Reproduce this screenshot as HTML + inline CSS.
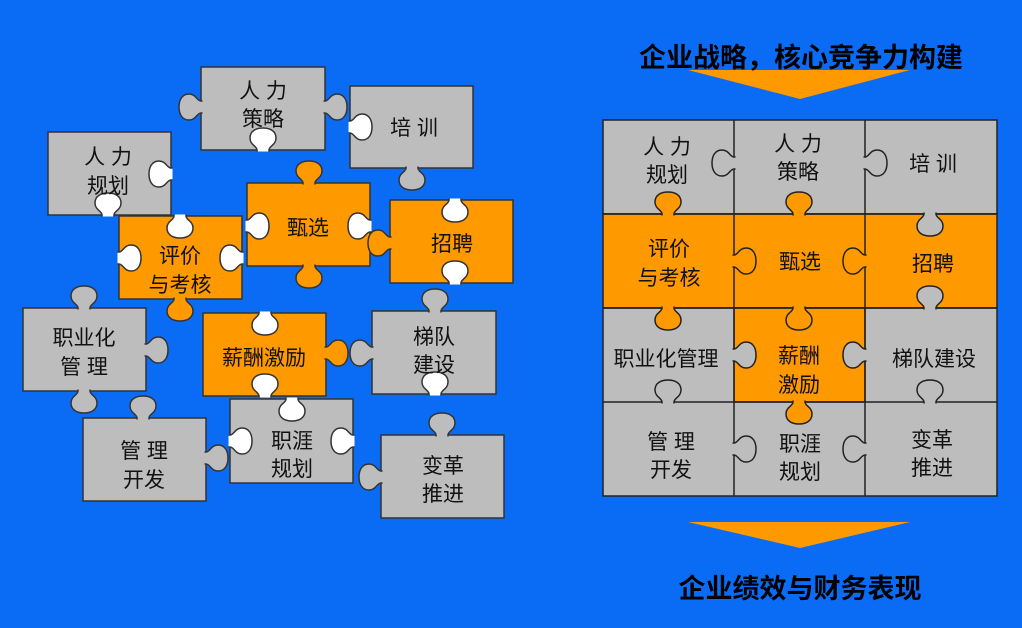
<!DOCTYPE html>
<html><head><meta charset="utf-8"><style>
html,body{margin:0;padding:0;background:#0a6cf5;}
svg{display:block}
text{font-family:"Liberation Sans","Noto Sans CJK SC",sans-serif;fill:#111;}
</style></head><body>
<svg width="1022" height="628" viewBox="0 0 1022 628" xmlns="http://www.w3.org/2000/svg">
<defs>
<path id="k" d="M -6 1.5 L -6 0 C -6 -4 -13 -5 -13 -12 C -13 -19 -7 -22 0 -22 C 7 -22 13 -19 13 -12 C 13 -5 6 -4 6 0 L 6 1.5"/>
</defs>
<rect width="1022" height="628" fill="#0a6cf5"/>
<g stroke="#333" stroke-width="1.5">
<rect x="201" y="67" width="124" height="83" fill="#bdbdbd"/>
<use href="#k" transform="translate(201,107) rotate(-90)" fill="#bdbdbd"/>
<use href="#k" transform="translate(325,107) rotate(90)" fill="#bdbdbd"/>
<use href="#k" transform="translate(263,150) rotate(0)" fill="#fff"/>
<rect x="350" y="86" width="123" height="82" fill="#bdbdbd"/>
<use href="#k" transform="translate(350,127) rotate(90)" fill="#fff"/>
<use href="#k" transform="translate(412,168) rotate(180)" fill="#bdbdbd"/>
<rect x="48" y="132" width="123" height="83" fill="#bdbdbd"/>
<use href="#k" transform="translate(171,174) rotate(-90)" fill="#fff"/>
<use href="#k" transform="translate(108,215) rotate(0)" fill="#fff"/>
<rect x="247" y="183" width="123" height="83" fill="#ff9900"/>
<use href="#k" transform="translate(309,183) rotate(0)" fill="#ff9900"/>
<use href="#k" transform="translate(247,226) rotate(90)" fill="#fff"/>
<use href="#k" transform="translate(370,226) rotate(-90)" fill="#fff"/>
<use href="#k" transform="translate(309,266) rotate(180)" fill="#ff9900"/>
<rect x="390" y="200" width="123" height="83" fill="#ff9900"/>
<use href="#k" transform="translate(455,200) rotate(180)" fill="#fff"/>
<use href="#k" transform="translate(390,243) rotate(-90)" fill="#ff9900"/>
<use href="#k" transform="translate(455,283) rotate(0)" fill="#fff"/>
<rect x="119" y="216" width="123" height="83" fill="#ff9900"/>
<use href="#k" transform="translate(180,216) rotate(180)" fill="#fff"/>
<use href="#k" transform="translate(119,258) rotate(90)" fill="#fff"/>
<use href="#k" transform="translate(242,258) rotate(-90)" fill="#fff"/>
<use href="#k" transform="translate(180,299) rotate(180)" fill="#ff9900"/>
<rect x="23" y="308" width="123" height="83" fill="#bdbdbd"/>
<use href="#k" transform="translate(84,308) rotate(0)" fill="#bdbdbd"/>
<use href="#k" transform="translate(146,350) rotate(90)" fill="#bdbdbd"/>
<use href="#k" transform="translate(84,391) rotate(180)" fill="#bdbdbd"/>
<rect x="203" y="313" width="123" height="83" fill="#ff9900"/>
<use href="#k" transform="translate(265,313) rotate(180)" fill="#fff"/>
<use href="#k" transform="translate(326,353) rotate(90)" fill="#ff9900"/>
<use href="#k" transform="translate(265,396) rotate(0)" fill="#fff"/>
<rect x="372" y="311" width="124" height="83" fill="#bdbdbd"/>
<use href="#k" transform="translate(435,311) rotate(0)" fill="#bdbdbd"/>
<use href="#k" transform="translate(372,353) rotate(-90)" fill="#bdbdbd"/>
<use href="#k" transform="translate(435,394) rotate(0)" fill="#fff"/>
<rect x="83" y="418" width="123" height="83" fill="#bdbdbd"/>
<use href="#k" transform="translate(143,418) rotate(0)" fill="#bdbdbd"/>
<use href="#k" transform="translate(206,458) rotate(90)" fill="#bdbdbd"/>
<rect x="230" y="399" width="123" height="84" fill="#bdbdbd"/>
<use href="#k" transform="translate(292,399) rotate(180)" fill="#fff"/>
<use href="#k" transform="translate(230,441) rotate(90)" fill="#fff"/>
<use href="#k" transform="translate(353,441) rotate(-90)" fill="#fff"/>
<rect x="381" y="435" width="123" height="83" fill="#bdbdbd"/>
<use href="#k" transform="translate(442,435) rotate(0)" fill="#bdbdbd"/>
<use href="#k" transform="translate(381,477) rotate(-90)" fill="#bdbdbd"/>
</g>
<g font-size="21" text-anchor="middle">
<text x="263" y="98">人 力</text><text x="263" y="126">策略</text>
<text x="414" y="135">培 训</text>
<text x="108" y="164">人 力</text><text x="108" y="193">规划</text>
<text x="308" y="235">甄选</text>
<text x="452" y="251">招聘</text>
<text x="180" y="263">评价</text><text x="180" y="292">与考核</text>
<text x="84" y="345">职业化</text><text x="84" y="374">管 理</text>
<text x="264" y="365">薪酬激励</text>
<text x="434" y="344">梯队</text><text x="434" y="372">建设</text>
<text x="144" y="458">管 理</text><text x="144" y="487">开发</text>
<text x="292" y="448">职涯</text><text x="292" y="476">规划</text>
<text x="443" y="473">变革</text><text x="443" y="501">推进</text>
</g>
<g stroke="#222" stroke-width="1.5">
<rect x="603" y="120" width="394" height="94" fill="#bdbdbd"/>
<rect x="603" y="214" width="394" height="94" fill="#ff9900"/>
<rect x="603" y="308" width="394" height="188" fill="#bdbdbd"/>
<rect x="734" y="308" width="131" height="94" fill="#ff9900"/>
<line x1="734" y1="120" x2="734" y2="496"/>
<line x1="865" y1="120" x2="865" y2="496"/>
<line x1="603" y1="214" x2="997" y2="214"/>
<line x1="603" y1="308" x2="997" y2="308"/>
<line x1="603" y1="402" x2="997" y2="402"/>
<use href="#k" transform="translate(734,163) rotate(-90)" fill="#bdbdbd"/>
<use href="#k" transform="translate(668,214) rotate(0)" fill="#ff9900"/>
<use href="#k" transform="translate(799,214) rotate(0)" fill="#ff9900"/>
<use href="#k" transform="translate(865,163) rotate(90)" fill="#bdbdbd"/>
<use href="#k" transform="translate(930,214) rotate(180)" fill="#bdbdbd"/>
<use href="#k" transform="translate(734,261) rotate(90)" fill="#ff9900"/>
<use href="#k" transform="translate(865,261) rotate(-90)" fill="#ff9900"/>
<use href="#k" transform="translate(930,308) rotate(0)" fill="#bdbdbd"/>
<use href="#k" transform="translate(668,308) rotate(180)" fill="#ff9900"/>
<use href="#k" transform="translate(799,308) rotate(180)" fill="#ff9900"/>
<use href="#k" transform="translate(734,355) rotate(90)" fill="#bdbdbd"/>
<use href="#k" transform="translate(865,355) rotate(-90)" fill="#bdbdbd"/>
<use href="#k" transform="translate(668,402) rotate(0)" fill="#bdbdbd"/>
<use href="#k" transform="translate(930,402) rotate(0)" fill="#bdbdbd"/>
<use href="#k" transform="translate(799,402) rotate(180)" fill="#ff9900"/>
<use href="#k" transform="translate(734,449) rotate(90)" fill="#bdbdbd"/>
<use href="#k" transform="translate(865,449) rotate(-90)" fill="#bdbdbd"/>
</g>
<g font-size="21" text-anchor="middle">
<text x="667" y="154">人 力</text><text x="667" y="182">规划</text>
<text x="798" y="151">人 力</text><text x="798" y="179">策略</text>
<text x="933" y="171">培 训</text>
<text x="669" y="256">评价</text><text x="669" y="285">与考核</text>
<text x="800" y="269">甄选</text>
<text x="933" y="271">招聘</text>
<text x="666" y="366">职业化管理</text>
<text x="799" y="363">薪酬</text><text x="799" y="392">激励</text>
<text x="934" y="366">梯队建设</text>
<text x="671" y="449">管 理</text><text x="671" y="477">开发</text>
<text x="800" y="451">职涯</text><text x="800" y="479">规划</text>
<text x="932" y="447">变革</text><text x="932" y="475">推进</text>
</g>
<polygon points="688,70 910,70 800,99" fill="#ff9900"/>
<polygon points="688,522 910,522 800,548" fill="#ff9900"/>
<text x="801" y="67" font-size="27" font-weight="bold" text-anchor="middle" style="fill:#000">企业战略，核心竞争力构建</text>
<text x="800" y="598" font-size="27" font-weight="bold" text-anchor="middle" style="fill:#000">企业绩效与财务表现</text>
</svg>
</body></html>
